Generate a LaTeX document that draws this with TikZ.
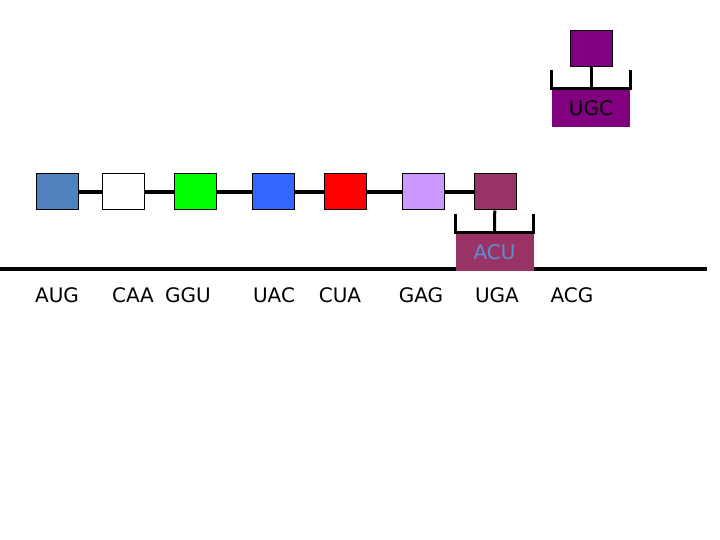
\documentclass[tikz,border=0pt]{standalone}
\usepackage{fontspec}
\setmainfont{DejaVu Sans}
\begin{document}
\begin{tikzpicture}[x=1pt,y=-1pt,
  aa/.style={draw=black,line width=1pt,minimum width=42pt,minimum height=36pt,inner sep=0pt},
  lab/.style={minimum width=78pt,minimum height=38pt,inner sep=0pt,font=\fontsize{20}{20}\selectfont},
  cod/.style={font=\fontsize{20}{20}\selectfont,inner sep=0pt},
  thick4/.style={line width=4pt},
  brk/.style={line width=3pt}]
\useasboundingbox (0,0) rectangle (720,540);
\definecolor{c1}{HTML}{4F81BD}\definecolor{c3}{HTML}{00FF00}\definecolor{c4}{HTML}{3366FF}
\definecolor{c6}{HTML}{CC99FF}\definecolor{mar}{HTML}{993366}\definecolor{pur}{HTML}{800080}
\definecolor{acu}{HTML}{5B8FD0}
% mRNA
\coordinate (L) at (0,269); \coordinate (R) at (707,269);
\draw[thick4] (L) -- (R);
\foreach \t/\x [count=\i] in {AUG/57,CAA/133,GGU/188,UAC/274,CUA/340,GAG/421,UGA/497,ACG/572}
  \node[cod] (k\i) at (\x,295) {\t};
% chain
\node[aa,fill=c1] (a1) at (57,192) {};
\node[aa,fill=white] (a2) at (123,192) {};
\node[aa,fill=c3] (a3) at (195,192) {};
\node[aa,fill=c4] (a4) at (273,192) {};
\node[aa,fill=red] (a5) at (345,192) {};
\node[aa,fill=c6] (a6) at (423,192) {};
\node[aa,fill=mar] (a7) at (495,192) {};
\draw[thick4] (a1) -- (a2) (a2) -- (a3) (a3) -- (a4) (a4) -- (a5) (a5) -- (a6) (a6) -- (a7);
% ACU tRNA
\node[lab,fill=mar,text=acu] (t1) at (494.5,252) {ACU};
\draw[brk] (a7) -- (t1.north);
\draw[brk] ([yshift=19pt]t1.north west) -- (t1.north west) -- (t1.north east) -- ([yshift=19pt]t1.north east);
% UGC tRNA
\node[aa,fill=pur] (u) at (591,48.5) {};
\node[lab,fill=pur] (t2) at (591,108) {UGC};
\draw[brk] (u) -- (t2.north);
\draw[brk] ([yshift=19pt]t2.north west) -- (t2.north west) -- (t2.north east) -- ([yshift=19pt]t2.north east);
\end{tikzpicture}
\end{document}
